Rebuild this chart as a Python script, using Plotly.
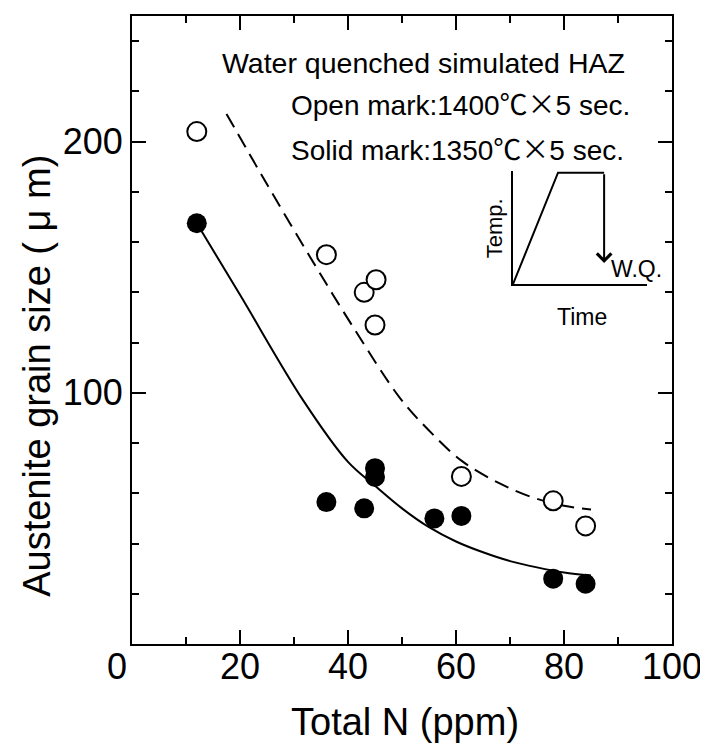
import plotly.graph_objects as go

# Total N (ppm) vs austenite grain size (um)
open_n = [12, 36, 43, 45.2, 45, 61, 78, 84]
open_size = [204, 155, 140, 145, 127, 66.7, 57, 47]

solid_n = [12, 36, 43, 45, 45, 56, 61, 78, 84]
solid_size = [167.5, 56.5, 54, 70, 66.5, 50, 51, 26, 24]

# fitted trend lines
open_fit_n = [17.5, 25, 33, 41, 49.6, 55, 61, 68, 74, 80, 85]
open_fit_size = [211, 183, 154, 126, 98, 85, 73, 64, 58.5, 55, 53.5]

solid_fit_n = [12, 20, 31.7, 40, 45, 50, 55, 60, 65, 70, 75, 80, 85]
solid_fit_size = [167.5, 139, 97, 72.5, 63, 54, 46.5, 40.8, 36.5, 33, 30.5, 28.5, 27.3]

# heat cycle sketch (inset)
inset_time = [0, 3.36, 6.8]
inset_temp = [0, 1, 1]
quench_temp = 0.19

x_ticks = [0, 20, 40, 60, 80, 100]
y_ticks = [0, 100, 200]

FONT = "Liberation Sans, Arial, Noto Sans CJK JP"
CJK = "<span style=\"font-family:'Noto Sans CJK JP'\">{}</span>"

# the page body has an 8px margin, so the figure is drawn 8px smaller
W, H, OFF = 708, 749, 8
# plot area in window pixels (for placing the text)
L, R, T, B = 132, 672, 14, 644


def px(x):
    return (x - L) / (R - L)


def py(y):
    return (B - y) / (B - T)


fig = go.Figure()

fig.add_trace(go.Scatter(x=open_fit_n, y=open_fit_size, mode="lines", line_shape="spline",
                         line=dict(color="black", width=2, dash="15px,8px")))
fig.add_trace(go.Scatter(x=solid_fit_n, y=solid_fit_size, mode="lines", line_shape="spline",
                         line=dict(color="black", width=2)))
fig.add_trace(go.Scatter(x=open_n, y=open_size, mode="markers",
                         marker=dict(symbol="circle", size=19, color="white",
                                     line=dict(color="black", width=2))))
fig.add_trace(go.Scatter(x=solid_n, y=solid_size, mode="markers",
                         marker=dict(symbol="circle", size=20, color="black",
                                     line=dict(color="black", width=0))))

# inset
fig.add_trace(go.Scatter(x=inset_time, y=inset_temp, mode="lines", xaxis="x2", yaxis="y2",
                         line=dict(color="black", width=2)))

axis_common = dict(showline=True, linecolor="black", linewidth=2, mirror="ticks",
                   ticks="inside", tickcolor="black", tickwidth=2, showgrid=False,
                   zeroline=False, tickfont=dict(family=FONT, size=36, color="black"))

fig.update_layout(
    width=W - OFF, height=H - OFF,
    margin=dict(l=L - OFF, r=W - R, t=T - OFF, b=H - B),
    paper_bgcolor="white", plot_bgcolor="white",
    showlegend=False,
    font=dict(family=FONT, color="black"),
    xaxis=dict(range=[0, 100], tickvals=x_ticks,
               ticktext=[""] + [str(v) for v in x_ticks[1:]], ticklen=14,
               ticklabelstandoff=-10,
               minor=dict(dtick=10, ticklen=7, ticks="inside", tickcolor="black", tickwidth=2),
               **axis_common),
    yaxis=dict(range=[0, 250], tickvals=y_ticks,
               ticktext=[""] + [str(v) for v in y_ticks[1:]], ticklen=14,
               minor=dict(dtick=20, ticklen=7, ticks="inside", tickcolor="black", tickwidth=2),
               **axis_common),
    xaxis2=dict(domain=[px(513), px(647)], anchor="y2", range=[0, 10],
                showline=True, linecolor="black", linewidth=2, showticklabels=False,
                showgrid=False, zeroline=False, ticks=""),
    yaxis2=dict(domain=[py(283), py(169)], anchor="x2", range=[0, 1.02],
                showline=True, linecolor="black", linewidth=2, showticklabels=False,
                showgrid=False, zeroline=False, ticks=""),
)

ann = [
    dict(text="0", x=px(117), y=py(667)),
    dict(text="Total N (ppm)", x=px(405), y=py(722), font=dict(size=38)),
    dict(text="Austenite grain size ( \u03bc m)", x=px(37), y=py(375), textangle=-90,
         font=dict(size=38)),
    dict(text="Water quenched simulated HAZ", x=px(423), y=py(61), font=dict(size=28.5)),
    dict(text="Open mark:1400" + CJK.format("\u2103\u00d7") + "5 sec.", x=px(289), y=py(101),
         xanchor="left", font=dict(size=28)),
    dict(text="Solid mark:1350" + CJK.format("\u2103\u00d7") + "5 sec.", x=px(289), y=py(146),
         xanchor="left", font=dict(size=28)),
    dict(text="Temp.", x=px(494), y=py(227), textangle=-90, font=dict(size=22)),
    dict(text="Time", x=px(582), y=py(316), font=dict(size=23)),
    dict(text="W.Q.", x=px(636), y=py(268), font=dict(size=23)),
]
for a in ann:
    a.setdefault("font", dict(size=36))
    a["font"] = dict(family=FONT, color="black", **a["font"])
    fig.add_annotation(xref="paper", yref="paper", showarrow=False,
                       xanchor=a.pop("xanchor", "center"), yanchor="middle", **a)

# quench arrow
fig.add_annotation(xref="x2", yref="y2", axref="x2", ayref="y2",
                   x=inset_time[-1], y=quench_temp, ax=inset_time[-1], ay=inset_temp[-1],
                   text="", showarrow=True, arrowhead=4, arrowsize=1.4, arrowwidth=2,
                   arrowcolor="black")

fig.write_html("out.html")
